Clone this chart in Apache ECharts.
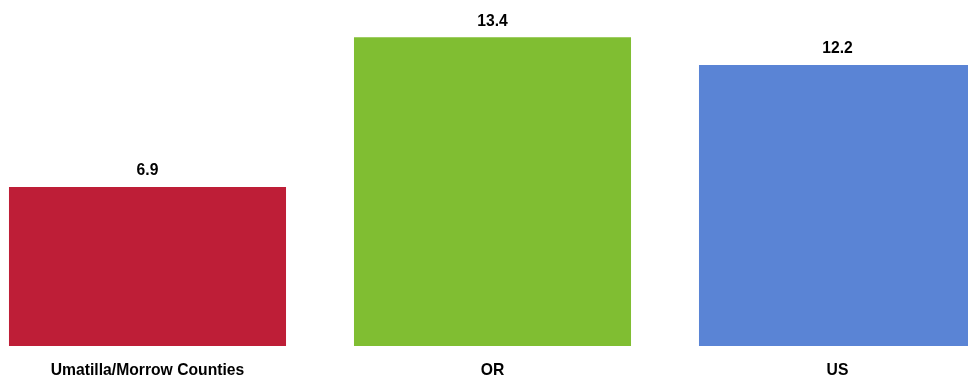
<!DOCTYPE html>
<html>
<head>
<meta charset="utf-8">
<script src="https://cdn.jsdelivr.net/npm/echarts@6/dist/echarts.min.js"></script>
<style>
  html, body { margin: 0; padding: 0; background: #fff; }
  #chart { width: 968px; height: 379px; }
</style>
</head>
<body>
<div id="chart"></div>
<script>
const categories = ['Umatilla/Morrow Counties', 'OR', 'US']
const values = [6.9, 13.4, 12.2]
const barColors = ['#BE1E37', '#80BE32', '#5A84D5']

const chart = echarts.init(document.getElementById('chart'))

const font = '"Liberation Sans", Arial, sans-serif'

// grid runs past the right edge, the US bar is clipped like in the source
chart.setOption({
  animation: false,
  grid: { left: -25, width: 1035, top: 23.4, height: 322.6, outerBoundsMode: 'none', containLabel: false },
  xAxis: {
    type: 'category',
    data: categories,
    axisLine: { show: false },
    axisTick: { show: false },
    axisLabel: {
      interval: 0,
      margin: 17,
      color: '#000',
      fontWeight: 'bold',
      fontSize: 15.7,
      fontFamily: font
    }
  },
  yAxis: {
    type: 'value',
    min: 0,
    max: 14,
    show: false
  },
  series: [{
    type: 'bar',
    barCategoryGap: '19.7%',
    data: values.map((v, i) => ({ value: v, itemStyle: { color: barColors[i] } })),
    label: {
      show: true,
      position: 'top',
      distance: 8,
      color: '#000',
      fontWeight: 'bold',
      fontSize: 15.7,
      fontFamily: font,
      formatter: p => p.value.toFixed(1)
    }
  }]
})
</script>
</body>
</html>
